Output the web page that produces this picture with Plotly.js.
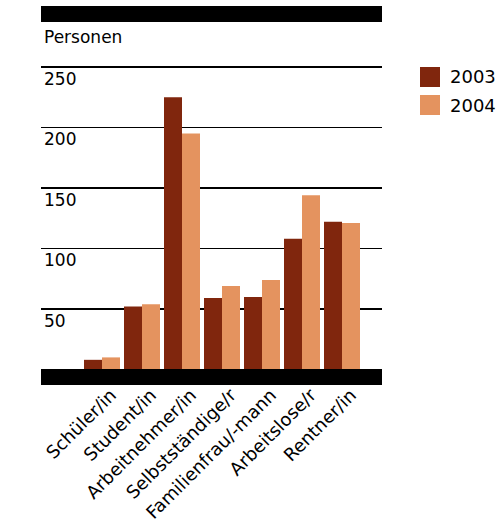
<!DOCTYPE html>
<html>
<head>
<meta charset="utf-8">
<script src="https://cdn.plot.ly/plotly-3.0.1.min.js"></script>
<style>html,body{margin:0;padding:0;background:#fff;}#chart{width:499px;height:523px;}</style>
</head>
<body>
<div id="chart"></div>
<script>
const categories = ["Schüler/in", "Student/in", "Arbeitnehmer/in", "Selbstständige/r", "Familienfrau/-mann", "Arbeitslose/r", "Rentner/in"];
const years = ["2003", "2004"];
const values2003 = [8, 52, 225, 59, 60, 108, 122];
const values2004 = [10, 54, 195, 69, 74, 144, 121];
const yTicks = [50, 100, 150, 200, 250];
const yTitle = "Personen";
const colors = ["#80260d", "#e4935f"];

const FONT = "DejaVu Sans";
const traces = [values2003, values2004].map((v, i) => ({
  type: "bar", x: categories, y: v, name: years[i],
  marker: {color: colors[i], line: {width: 0}},
  showlegend: false, hoverinfo: "skip"
}));

const W = 341, H = 379;
const shapes = [
  {type: "rect", xref: "paper", yref: "paper", x0: 0, x1: 1, y0: 0, y1: 16/H, fillcolor: "#000", line: {width: 0}, layer: "above"},
  {type: "rect", xref: "paper", yref: "paper", x0: 0, x1: 1, y0: 1 - 16/H, y1: 1, fillcolor: "#000", line: {width: 0}, layer: "above"}
];
const annotations = [
  {xref: "paper", yref: "paper", x: 1/W, y: (385-37)/H, xanchor: "left", yanchor: "middle",
   text: yTitle, showarrow: false, font: {family: FONT, size: 17, color: "#000"}}
];
years.forEach((yr, i) => {
  const top = 67 + i*28;
  shapes.push({type: "rect", xref: "paper", yref: "paper",
    x0: (420-41)/W, x1: (440-41)/W, y0: (385-(top+20))/H, y1: (385-top)/H,
    fillcolor: colors[i], line: {width: 0}});
  annotations.push({xref: "paper", yref: "paper", x: (448-41)/W, y: (385-(top+10))/H,
    xanchor: "left", yanchor: "middle", text: yr, showarrow: false,
    font: {family: FONT, size: 18, color: "#000"}});
});

const layout = {
  width: 499, height: 523,
  margin: {l: 41, r: 117, t: 6, b: 138, pad: 0},
  paper_bgcolor: "#fff", plot_bgcolor: "#fff",
  font: {family: FONT, color: "#000"},
  barmode: "group", bargap: 0.1, bargroupgap: 0,
  xaxis: {type: "category", range: [-1.525, 7.0], showgrid: false, zeroline: false, showline: false,
    ticks: "", tickangle: -45, ticklabelshift: 9, ticklabelstandoff: -5,
    tickfont: {family: FONT, size: 18, color: "#000"}, fixedrange: true},
  yaxis: {range: [-12.81, 300.4], tickvals: yTicks, ticktext: yTicks.map(String),
    showgrid: true, gridcolor: "#000", gridwidth: 1.6, zeroline: false, showline: false, ticks: "",
    ticklabelposition: "inside bottom", tickfont: {family: FONT, size: 17, color: "#000"}, fixedrange: true},
  shapes: shapes, annotations: annotations
};
Plotly.newPlot("chart", traces, layout, {displayModeBar: false, staticPlot: true});
</script>
</body>
</html>
